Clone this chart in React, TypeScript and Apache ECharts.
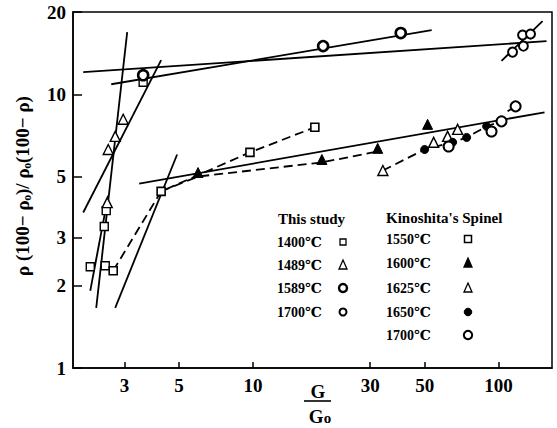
import React, { useEffect, useRef } from "react";
import * as echarts from "echarts";

// axis ranges and tick labels
const xRange = [1.85, 165];
const yRange = [1, 20];
const xTicks = [3, 5, 10, 30, 50, 100];
const yTicks = [1, 2, 3, 5, 10, 20];

// This study
const ts1400 = [[2.175, 2.345], [2.503, 2.365], [2.48, 3.29], [2.526, 3.76], [3.571, 11.08]];
const ts1489 = [[2.55, 4.02], [2.574, 6.29], [2.748, 7.02], [2.962, 8.11]];
const ts1589 = [[3.571, 11.75], [19.3, 15.01], [39.96, 16.75]];
const ts1700 = [[114, 14.27], [126.2, 15.01], [125.2, 16.47], [134.9, 16.61]];

// Kinoshita's Spinel
const k1550 = [[2.697, 2.267], [4.227, 4.42], [9.72, 6.14], [17.86, 7.58]];
const k1600 = [[5.974, 5.18], [19.08, 5.78], [32.2, 6.35], [51.4, 7.77]];
const k1625 = [[33.8, 5.27], [54.4, 6.68], [62.0, 7.02], [68.1, 7.45]];
const k1650 = [[50.0, 6.29], [65.0, 6.68], [74.1, 6.96], [89.4, 7.64]];
const k1700 = [[62.6, 6.45], [93.6, 7.32], [102.8, 7.97], [117.3, 9.04]];

// fitted solid lines
const fitLines = [
  [[2.036, 12.05], [156.7, 15.65]],
  [[2.647, 10.89], [53.4, 17.17]],
  [[102.8, 13.26], [151.0, 18.53]],
  [[3.075, 16.89], [2.3, 1.659]],
  [[4.227, 13.34], [2.036, 3.7]],
  [[2.175, 1.915], [2.574, 4.27]],
  [[2.748, 1.659], [4.911, 6.03]],
  [[3.44, 4.72], [153.8, 8.6]],
  [[108.8, 8.67], [117.3, 9.04]],
];

// dashed connecting lines (Kinoshita)
const dashLines = [
  [[2.697, 2.267], [4.227, 4.42], [9.72, 6.14], [17.86, 7.58]],
  [[4.227, 4.42], [5.974, 5.01], [19.08, 5.64], [32.2, 6.19]],
  [[33.8, 5.27], [50.0, 6.29], [65.0, 6.68], [74.1, 6.96], [89.4, 7.64], [102.8, 7.97]],
];

const FONT = "'Liberation Serif', 'DejaVu Serif', serif";
const BLACK = "#000";

export default function App() {
  const ref = useRef<HTMLDivElement>(null);
  useEffect(() => {
    document.body.style.margin = "0";
    const chart = echarts.init(ref.current!, null, { renderer: "svg" });
    const lg = Math.log10;

    const scatter = (data: number[][], symbol: string, size: number, fill: string, lw: number) => ({
      type: "scatter",
      xAxisIndex: 0,
      yAxisIndex: 0,
      data,
      symbol,
      symbolSize: size,
      z: 5,
      itemStyle: { color: fill, borderColor: BLACK, borderWidth: lw, opacity: 1 },
      silent: true,
    });
    const line = (data: number[][], dashed: boolean) => ({
      type: "line",
      xAxisIndex: 0,
      yAxisIndex: 0,
      data,
      symbol: "none",
      showSymbol: false,
      z: 3,
      lineStyle: { color: BLACK, width: 1.8, type: dashed ? [9, 5] : "solid" },
      silent: true,
    });

    const labelStyle = { color: BLACK, fontFamily: FONT, fontWeight: "bold", fontSize: 19 };
    const legText = (text: string, x: number, y: number, size = 14) => ({
      type: "text",
      x,
      y,
      style: { text, fill: BLACK, font: `bold ${size}px ${FONT}`, verticalAlign: "middle", align: "left" },
    });
    const sq = (x: number, y: number, s: number, lw: number) => ({
      type: "rect", x, y, shape: { x: -s / 2, y: -s / 2, width: s, height: s },
      style: { fill: "#fff", stroke: BLACK, lineWidth: lw },
    });
    const tri = (x: number, y: number, fill: string) => ({
      type: "polygon", x, y, shape: { points: [[0, -5], [4, 4], [-4, 4]] },
      style: { fill, stroke: BLACK, lineWidth: 1.3 },
    });
    const circ = (x: number, y: number, r: number, fill: string, lw: number) => ({
      type: "circle", x, y, shape: { cx: 0, cy: 0, r },
      style: { fill, stroke: BLACK, lineWidth: lw },
    });

    chart.setOption({
      animation: false,
      backgroundColor: "#fff",
      grid: {
        left: 73, right: 5, top: 12, bottom: 60,
        show: true, borderColor: BLACK, borderWidth: 1.5,
        outerBoundsMode: "none",
      },
      xAxis: [
        { type: "log", min: xRange[0], max: xRange[1], show: false },
        {
          type: "value", position: "bottom", min: lg(xRange[0]), max: lg(xRange[1]),
          axisLine: { show: true, onZero: false, lineStyle: { color: BLACK, width: 1.5 } },
          axisTick: { show: true, inside: true, length: 6, customValues: xTicks.map(lg), lineStyle: { color: BLACK, width: 1.5 } },
          axisLabel: { show: true, customValues: xTicks.map(lg), margin: 8, formatter: (v: number) => String(Math.round(Math.pow(10, v))), ...labelStyle },
          splitLine: { show: false },
        },
      ],
      yAxis: [
        { type: "log", min: yRange[0], max: yRange[1], show: false },
        {
          type: "value", position: "left", min: lg(yRange[0]), max: lg(yRange[1]),
          axisLine: { show: true, onZero: false, lineStyle: { color: BLACK, width: 1.5 } },
          axisTick: { show: true, inside: true, length: 9, customValues: yTicks.map(lg), lineStyle: { color: BLACK, width: 1.5 } },
          axisLabel: { show: true, customValues: yTicks.map(lg), margin: 7, formatter: (v: number) => String(Math.round(Math.pow(10, v))), ...labelStyle },
          splitLine: { show: false },
        },
      ],
      series: [
        ...fitLines.map((d) => line(d, false)),
        ...dashLines.map((d) => line(d, true)),
        scatter(ts1400, "rect", 8, "#fff", 1.4),
        scatter(ts1489, "triangle", 10, "#fff", 1.4),
        scatter(ts1589, "circle", 10, "#fff", 2.6),
        scatter(ts1700, "circle", 9, "#fff", 2),
        scatter(k1550, "rect", 8, "#fff", 1.6),
        scatter(k1600, "triangle", 10, BLACK, 1),
        scatter(k1625, "triangle", 10, "#fff", 1.4),
        scatter(k1650, "circle", 8, BLACK, 1),
        scatter(k1700, "circle", 10, "#fff", 2),
      ],
      graphic: [
        {
          type: "text", x: 22, y: 186, rotation: Math.PI / 2,
          style: { text: "ρ (100− ρₒ)/ ρₒ(100− ρ)", fill: BLACK, font: `bold 19px ${FONT}`, align: "center", verticalAlign: "middle" },
        },
        { type: "text", x: 318, y: 391, style: { text: "G", fill: BLACK, font: `bold 19px ${FONT}`, align: "center", verticalAlign: "middle" } },
        { type: "line", shape: { x1: 304, y1: 401, x2: 331, y2: 401 }, style: { stroke: BLACK, lineWidth: 1.6 } },
        {
          type: "text", x: 320, y: 416,
          style: {
            text: "{g|G}{o|o}", align: "center", verticalAlign: "middle",
            rich: {
              g: { fill: BLACK, fontFamily: FONT, fontWeight: "bold", fontSize: 19, verticalAlign: "bottom" },
              o: { fill: BLACK, fontFamily: FONT, fontWeight: "bold", fontSize: 15, verticalAlign: "bottom" },
            },
          },
        },
        legText("This study", 278, 219, 15),
        legText("1400℃", 277, 242),
        legText("1489℃", 277, 265),
        legText("1589℃", 277, 288),
        legText("1700℃", 277, 312),
        sq(343, 242, 6, 1.3),
        tri(343, 265, "#fff"),
        circ(343, 288, 4, "#fff", 2.4),
        circ(343, 312, 3.5, "#fff", 2),
        legText("Kinoshita's Spinel", 386, 218, 15),
        legText("1550℃", 386, 239),
        legText("1600℃", 386, 263),
        legText("1625℃", 386, 288),
        legText("1650℃", 386, 312),
        legText("1700℃", 386, 335),
        sq(468, 239, 7, 1.5),
        tri(468, 263, BLACK),
        tri(468, 288, "#fff"),
        circ(468, 312, 3.8, BLACK, 1),
        circ(468, 335, 4.2, "#fff", 2),
      ],
    });
    return () => chart.dispose();
  }, []);
  return <div ref={ref} style={{ position: "fixed", left: 0, top: 0, width: 557, height: 428 }} />;
}
